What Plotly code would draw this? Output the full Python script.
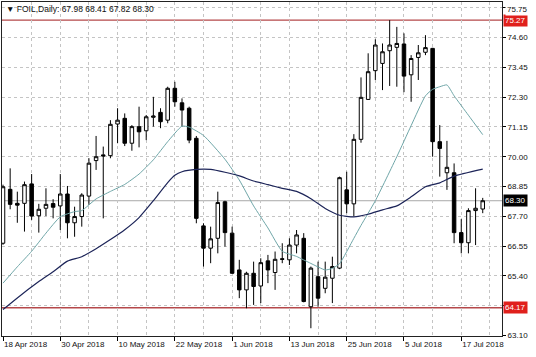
import plotly.graph_objects as go

# ---- data (daily bars, 18 Apr 2018 .. 20 Jul 2018) ----
bar_index = list(range(68))
opens = [66.66, 68.74, 68.20, 68.20, 68.95, 67.72, 68.01, 68.19, 68.10, 68.56,
         67.45, 67.69, 68.48, 69.85, 70.07, 70.04, 71.26, 71.48, 70.52, 71.16,
         71.00, 71.52, 71.71, 71.41, 72.64, 72.08, 71.87, 70.71, 67.33, 66.47,
         66.85, 68.26, 67.05, 65.63, 64.86, 65.50, 65.01, 65.98, 65.53, 66.06,
         66.02, 66.59, 66.85, 64.21, 65.37, 64.92, 65.31, 65.70, 68.72, 68.18,
         70.67, 72.21, 73.32, 73.60, 74.09, 74.22, 74.35, 73.16, 73.83, 74.03,
         74.18, 70.58, 69.38, 69.38, 67.07, 66.68, 67.92, 67.98]
highs = [68.92, 69.55, 68.65, 69.04, 69.33, 68.18, 68.78, 68.36, 69.33, 68.87,
         68.07, 68.59, 69.94, 70.80, 70.39, 71.41, 71.87, 71.67, 71.22, 71.93,
         71.61, 72.31, 71.87, 72.70, 72.89, 72.25, 71.93, 70.80, 67.43, 67.30,
         68.65, 68.30, 67.30, 66.02, 65.56, 65.95, 66.08, 66.21, 66.34, 66.66,
         66.85, 67.17, 67.05, 65.76, 65.95, 65.95, 66.14, 69.23, 69.42, 70.87,
         73.06, 73.99, 74.53, 74.37, 75.27, 75.01, 74.76, 73.92, 74.31, 74.69,
         74.20, 71.22, 70.61, 69.74, 67.59, 68.01, 68.78, 68.41]
lows = [66.60, 67.97, 67.45, 67.11, 67.56, 67.07, 67.71, 67.62, 67.17, 66.85,
        66.91, 67.30, 68.14, 69.49, 67.62, 69.94, 70.52, 70.41, 70.23, 70.36,
        70.64, 71.16, 71.10, 71.29, 71.93, 71.16, 70.52, 67.43, 65.76, 65.89,
        66.27, 66.53, 65.48, 64.54, 64.15, 64.28, 64.35, 65.12, 64.86, 65.89,
        65.82, 66.27, 64.38, 63.38, 64.21, 64.73, 64.35, 65.66, 67.82, 67.69,
        70.54, 72.19, 72.96, 72.57, 72.73, 72.70, 72.49, 72.12, 72.96, 73.92,
        70.00, 69.23, 68.72, 66.66, 66.27, 66.27, 66.59, 67.82]
closes = [68.84, 68.16, 68.13, 68.92, 67.71, 67.97, 68.16, 68.05, 68.56, 67.45,
          67.69, 68.52, 69.75, 70.00, 70.03, 71.25, 71.41, 70.52, 71.16, 70.96,
          71.54, 71.57, 71.35, 72.64, 72.12, 71.80, 70.64, 67.62, 66.47, 66.83,
          68.23, 67.07, 65.50, 64.86, 65.50, 64.99, 65.91, 65.63, 66.04, 66.04,
          66.59, 66.98, 64.41, 65.70, 64.54, 65.35, 65.76, 69.19, 68.18, 70.67,
          72.29, 73.28, 74.31, 74.05, 74.31, 74.37, 73.11, 73.79, 74.01, 74.21,
          70.58, 70.32, 69.59, 67.07, 66.68, 67.92, 68.01, 68.30]

# moving averages (read at selected bars)
fast_ma_idx = [0, 2, 4, 6, 8, 10, 11, 13, 15, 17, 19, 21, 23, 25, 26, 28, 31, 33,
               35, 37, 39, 41, 43, 45, 46, 47, 49, 50, 52, 55, 57, 59, 60, 61, 62,
               63, 65, 67]
fast_ma_val = [65.12, 65.75, 66.35, 67.05, 67.68, 67.88, 67.92, 68.37, 68.66,
               68.93, 69.33, 69.88, 70.58, 71.18, 71.14, 70.82, 69.90, 69.10,
               68.10, 67.25, 66.35, 66.15, 65.88, 65.63, 65.69, 65.87, 66.85,
               67.35, 68.30, 70.00, 71.20, 72.35, 72.60, 72.70, 72.77, 72.35,
               71.60, 70.85]
slow_ma_idx = [0, 2, 5, 7, 9, 11, 13, 15, 17, 19, 21, 23, 24, 25, 27, 29, 31, 33,
               35, 37, 39, 41, 43, 45, 47, 49, 51, 53, 55, 57, 59, 61, 63, 67]
slow_ma_val = [64.10, 64.55, 65.18, 65.56, 65.97, 66.14, 66.45, 66.80, 67.18,
               67.65, 68.30, 69.00, 69.28, 69.42, 69.51, 69.51, 69.40, 69.26,
               69.06, 68.92, 68.78, 68.66, 68.38, 68.00, 67.74, 67.68, 67.78,
               67.95, 68.10, 68.45, 68.84, 68.99, 69.25, 69.52]

date_tick_idx = [0, 8, 16, 24, 32, 40, 48, 56, 64]
date_tick_text = ["18 Apr 2018", "30 Apr 2018", "10 May 2018", "22 May 2018",
                  "1 Jun 2018", "13 Jun 2018", "25 Jun 2018", "5 Jul 2018",
                  "17 Jul 2018"]
price_ticks = [75.75, 74.60, 73.45, 72.30, 71.15, 70.00, 68.85, 67.70, 66.55,
               65.40, 64.25, 63.10]
price_tick_text = ["", "74.60", "73.45", "72.30", "71.15", "70.00", "68.85",
                   "67.70", "66.55", "65.40", "", "63.10"]
top_price_label = "75.75"
red_levels = [75.27, 64.17]
symbol = "FOIL,Daily"

FONT = "Liberation Sans, Arial, sans-serif"
GRID = "#c4c4c4"

fig = go.Figure()
fig.add_trace(go.Scatter(x=fast_ma_idx, y=fast_ma_val, mode="lines",
                         line=dict(color="#6fa6a8", width=1, shape="spline", smoothing=0.5),
                         hoverinfo="skip", showlegend=False))
fig.add_trace(go.Scatter(x=slow_ma_idx, y=slow_ma_val, mode="lines",
                         line=dict(color="#1c2458", width=1.2, shape="spline", smoothing=0.5),
                         hoverinfo="skip", showlegend=False))
fig.add_trace(go.Candlestick(
    x=bar_index, open=opens, high=highs, low=lows, close=closes,
    increasing=dict(line=dict(color="black", width=1), fillcolor="white"),
    decreasing=dict(line=dict(color="black", width=1), fillcolor="black"),
    whiskerwidth=0, showlegend=False, hoverinfo="skip"))

shapes = []
for lv in red_levels:
    shapes.append(dict(type="line", xref="paper", x0=0, x1=1, yref="y", y0=lv, y1=lv,
                       line=dict(color="#b5484a", width=1.3), layer="below"))
last_close = closes[-1]
shapes.append(dict(type="line", xref="paper", x0=0, x1=1, yref="y", y0=last_close,
                   y1=last_close, line=dict(color="#a8a8a8", width=1), layer="below"))

annotations = []
for lv in red_levels:
    annotations.append(dict(xref="paper", x=1, xanchor="left", xshift=1, yref="y", y=lv,
                            text=f"{lv:.2f}", showarrow=False, bgcolor="#e0201c",
                            font=dict(family=FONT, size=8, color="white"), borderpad=1))
annotations.append(dict(xref="paper", x=1, xanchor="left", xshift=1, yref="y", y=last_close,
                        text=f"{last_close:.2f}", showarrow=False, bgcolor="#000000",
                        font=dict(family=FONT, size=8, color="white"), borderpad=1))
annotations.append(dict(xref="paper", x=1.0, xanchor="left", xshift=3, yref="paper",
                        y=0.979, yanchor="middle",
                        text=top_price_label, showarrow=False, bgcolor="white",
                        font=dict(family=FONT, size=8, color="#111111")))
annotations.append(dict(xref="paper", x=0.004, xanchor="left", yref="paper", y=0.979,
                        yanchor="middle",
                        text=f"▼ {symbol}: {opens[-1]:.2f} {highs[-1]:.2f} {lows[-1]:.2f} {closes[-1]:.2f}",
                        showarrow=False, font=dict(family=FONT, size=8.5, color="#111111")))

fig.update_layout(
    width=536, height=357, margin=dict(l=2, r=34, t=2, b=21),
    paper_bgcolor="white", plot_bgcolor="white",
    shapes=shapes, annotations=annotations, showlegend=False,
    xaxis=dict(range=[-0.14, 69.69], tickmode="array", tickvals=date_tick_idx,
               ticktext=date_tick_text, ticks="outside", ticklen=4, tickcolor="black",
               ticklabelposition="outside right",
               tickfont=dict(family=FONT, size=8, color="#111111"),
               showgrid=True, gridcolor=GRID, griddash="3px,3px", gridwidth=1,
               minor=dict(tickvals=[i + 4 for i in date_tick_idx], showgrid=True,
                          gridcolor=GRID, griddash="3px,3px", ticks=""),
               showline=True, linecolor="#222222", linewidth=1, mirror=True,
               zeroline=False, rangeslider=dict(visible=False), fixedrange=True),
    yaxis=dict(side="right", range=[63.08, 75.97], tickmode="array",
               tickvals=price_ticks, ticktext=price_tick_text,
               ticks="outside", ticklen=3, tickcolor="black",
               tickfont=dict(family=FONT, size=8, color="#111111"),
               showgrid=True, gridcolor=GRID, griddash="3px,3px", gridwidth=1,
               showline=True, linecolor="#222222", linewidth=1, mirror=True,
               zeroline=False, fixedrange=True),
)

fig.write_html("out.html", config={"displayModeBar": False})
